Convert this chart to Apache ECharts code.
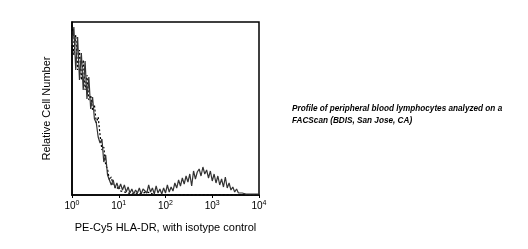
<!DOCTYPE html>
<html><head><meta charset="utf-8">
<script src="https://cdn.jsdelivr.net/npm/echarts@6/dist/echarts.min.js"></script>
<style>html,body{margin:0;padding:0;background:#fff}#c{width:528px;height:249px}</style>
</head><body><div id="c"></div>
<script>
// log10 channel positions (decades), step 0.04
var logPos = [];
for (var k = 0; k <= 100; k++) logPos.push(+(k * 0.04).toFixed(2));
var sampleCounts = [150,168,125,158,115,142,105,134,96,118,
  86,98,76,72,58,52,56,33,40,20,
  19,10,15,7,12,6,11,5,10,3,
  8,2,6,1,5,2,7,1,6,8,
  2,10,3,7,1,9,2,6,1,7,
  2,10,3,8,4,12,7,15,9,17,
  11,19,13,21,9,24,16,23,26,19,
  28,21,25,17,24,14,21,12,19,10,
  16,8,18,7,12,5,8,3,6,2,
  4,2,3,1,3,1,2,1,2,1,1];
var isotypeCounts = [170,140,160,125,145,115,135,105,120,95,
  100,85,90,72,78,60,45,48,30,26,
  15,18,10,12,6,9,4,6,3,5,
  2,4,1,3,2,4,1,3,2,1,
  3,1,2,1,0,1,0,1,0,0,
  0,0,0,0,0,0,0,0,0,0,
  0,0,0,0,0,0,0,0,0,0,
  0,0,0,0,0,0,0,0,0,0,
  0,0,0,0,0,0,0,0,0,0,
  0,0,0,0,0,0,0,0,0,0,0];
var xTitle = 'PE-Cy5 HLA-DR, with isotype control';
var yTitle = 'Relative Cell Number';
var noteLines = ['Profile of peripheral blood lymphocytes analyzed on a', 'FACScan (BDIS, San Jose, CA)'];

function pairs(ys){ return ys.map(function(v,i){ return [logPos[i], v]; }); }
var chart = echarts.init(document.getElementById('c'), null, {renderer:'canvas'});
var font = '"Liberation Sans", Arial, sans-serif';
chart.setOption({
  animation:false,
  backgroundColor:'#fff',
  grid:{left:72, right:269, top:22, bottom:54, show:true, borderColor:'#000', borderWidth:1.5, backgroundColor:'transparent'},
  xAxis:{type:'value', min:0, max:4, interval:1,
    name:xTitle, nameLocation:'middle', nameGap:27,
    nameTextStyle:{fontFamily:font, fontSize:11, color:'#000'},
    axisLine:{show:true, lineStyle:{color:'#000', width:1.5}},
    axisTick:{show:true, length:3, lineStyle:{color:'#000'}},
    splitLine:{show:false},
    axisLabel:{margin:5, fontFamily:font, color:'#000',
      formatter:function(v){ return '{b|10}{s|' + Math.round(v) + '}'; },
      rich:{b:{fontSize:10, fontFamily:font, color:'#000'}, s:{fontSize:7, fontFamily:font, color:'#000', verticalAlign:'top', padding:[0,0,6,0]}}
    }},
  yAxis:{type:'value', min:0, max:173,
    name:yTitle, nameLocation:'middle', nameGap:20,
    nameTextStyle:{fontFamily:font, fontSize:11, color:'#000'},
    axisLine:{show:true, lineStyle:{color:'#000', width:1.5}},
    axisTick:{show:false}, axisLabel:{show:false}, splitLine:{show:false}},
  series:[
    {type:'line', data:pairs(isotypeCounts), showSymbol:false, symbol:'none',
      lineStyle:{color:'#000', width:1.2, type:[2,2]}, z:2},
    {type:'line', data:pairs(sampleCounts), showSymbol:false, symbol:'none',
      lineStyle:{color:'#333', width:1.2}, z:3}
  ],
  graphic:[
    {type:'text', left:292, top:103, style:{text:noteLines.join('\n'), fill:'#000',
      font:'italic bold 8.2px ' + font, lineHeight:12}}
  ]
});
</script></body></html>
